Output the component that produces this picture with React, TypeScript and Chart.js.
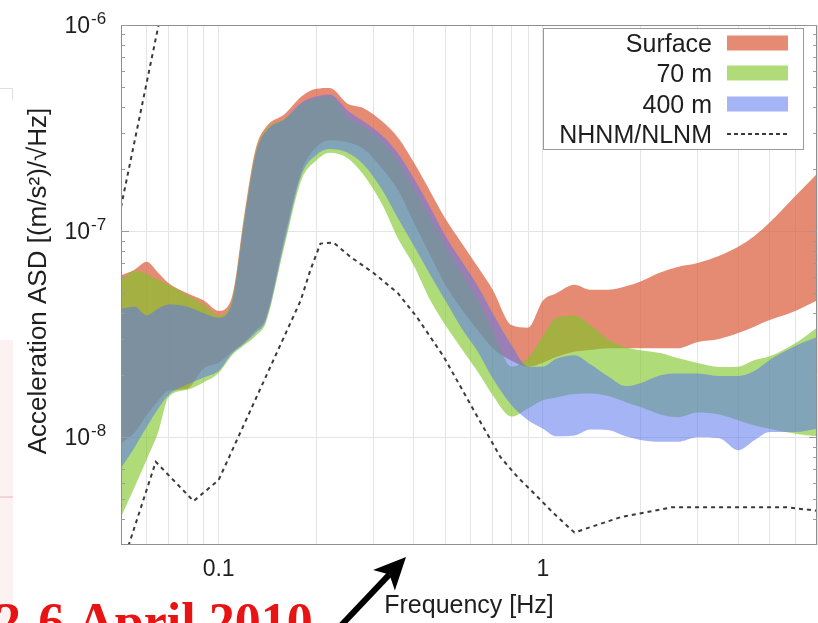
import React, { useEffect, useRef } from 'react';
import { Chart, registerables } from 'chart.js';

Chart.register(...registerables);

// ---------- data ----------
const freq = [0.05, 0.055, 0.06, 0.065, 0.07, 0.08, 0.09, 0.1, 0.11, 0.12, 0.13, 0.14, 0.16, 0.18, 0.2, 0.22, 0.25, 0.28, 0.32, 0.36, 0.4, 0.45, 0.5, 0.56, 0.63, 0.7, 0.8, 0.9, 1.0, 1.1, 1.25, 1.4, 1.6, 1.8, 2.0, 2.3, 2.6, 3.0, 3.5, 4.0, 4.5, 5.0, 6.0, 7.0];

const surfaceHigh = [6.1e-8, 6.5e-8, 7.1e-8, 6.3e-8, 5.6e-8, 5.0e-8, 4.6e-8, 4.1e-8, 4.8e-8, 1.2e-7, 2.5e-7, 3.2e-7, 3.7e-7, 4.5e-7, 4.9e-7, 4.95e-7, 4.15e-7, 3.95e-7, 3.4e-7, 2.8e-7, 2.15e-7, 1.55e-7, 1.15e-7, 8.8e-8, 6.7e-8, 5.2e-8, 3.5e-8, 3.4e-8, 4.6e-8, 5.0e-8, 5.5e-8, 5.2e-8, 5.2e-8, 5.4e-8, 5.7e-8, 6.3e-8, 6.7e-8, 7.0e-8, 7.6e-8, 8.4e-8, 9.5e-8, 1.1e-7, 1.48e-7, 1.9e-7];
const surfaceLow = [9.3e-9, 1.05e-8, 1.28e-8, 1.5e-8, 1.68e-8, 1.72e-8, 2.16e-8, 2.3e-8, 2.6e-8, 2.9e-8, 3.3e-8, 3.8e-8, 9.5e-8, 1.95e-7, 2.55e-7, 2.76e-7, 2.7e-7, 2.5e-7, 2.0e-7, 1.55e-7, 1.1e-7, 7.6e-8, 5.5e-8, 4.2e-8, 3.3e-8, 2.7e-8, 2.35e-8, 2.2e-8, 2.3e-8, 2.45e-8, 2.6e-8, 2.65e-8, 2.7e-8, 2.7e-8, 2.7e-8, 2.7e-8, 2.7e-8, 2.9e-8, 3.0e-8, 3.2e-8, 3.45e-8, 3.7e-8, 4.1e-8, 4.6e-8];

const m70High = [5.8e-8, 6.4e-8, 6.2e-8, 5.8e-8, 5.5e-8, 4.9e-8, 4.4e-8, 3.9e-8, 4.6e-8, 1.15e-7, 2.4e-7, 3.1e-7, 3.5e-7, 4.1e-7, 4.4e-7, 4.5e-7, 3.55e-7, 3.2e-7, 2.7e-7, 2.15e-7, 1.6e-7, 1.15e-7, 8.5e-8, 6.3e-8, 4.6e-8, 3.3e-8, 2.2e-8, 2.42e-8, 3.1e-8, 3.8e-8, 3.9e-8, 3.5e-8, 2.96e-8, 2.73e-8, 2.64e-8, 2.56e-8, 2.42e-8, 2.29e-8, 2.19e-8, 2.2e-8, 2.37e-8, 2.47e-8, 2.86e-8, 3.4e-8];
const m70Low = [4.1e-9, 5.7e-9, 7.8e-9, 1.05e-8, 1.56e-8, 1.7e-8, 1.85e-8, 2.05e-8, 2.5e-8, 2.8e-8, 3.1e-8, 3.6e-8, 8.6e-8, 1.77e-7, 2.2e-7, 2.4e-7, 2.26e-7, 1.87e-7, 1.34e-7, 9.0e-8, 6.8e-8, 4.6e-8, 3.5e-8, 2.7e-8, 2.07e-8, 1.6e-8, 1.26e-8, 1.38e-8, 1.51e-8, 1.56e-8, 1.62e-8, 1.63e-8, 1.58e-8, 1.48e-8, 1.4e-8, 1.29e-8, 1.25e-8, 1.32e-8, 1.29e-8, 1.21e-8, 1.14e-8, 1.1e-8, 1.04e-8, 1.01e-8];

const m400High = [4.2e-8, 4.3e-8, 3.9e-8, 4.2e-8, 4.4e-8, 4.3e-8, 4.0e-8, 3.8e-8, 4.5e-8, 1.12e-7, 2.35e-7, 3.05e-7, 3.5e-7, 4.2e-7, 4.5e-7, 4.6e-7, 3.85e-7, 3.4e-7, 2.9e-7, 2.35e-7, 1.8e-7, 1.3e-7, 9.5e-8, 7.2e-8, 5.4e-8, 4.0e-8, 2.8e-8, 2.2e-8, 2.2e-8, 2.4e-8, 2.5e-8, 2.26e-8, 1.96e-8, 1.77e-8, 1.83e-8, 2.0e-8, 2.04e-8, 2.04e-8, 1.98e-8, 1.98e-8, 2.1e-8, 2.37e-8, 2.77e-8, 3.06e-8];
const m400Low = [7.1e-9, 8.9e-9, 1.12e-8, 1.37e-8, 1.6e-8, 1.8e-8, 1.95e-8, 2.1e-8, 2.55e-8, 2.85e-8, 3.2e-8, 3.7e-8, 9.0e-8, 1.87e-7, 2.34e-7, 2.5e-7, 2.4e-7, 2.1e-7, 1.58e-7, 1.13e-7, 8.5e-8, 6.1e-8, 4.6e-8, 3.4e-8, 2.6e-8, 1.93e-8, 1.43e-8, 1.21e-8, 1.1e-8, 1.01e-8, 1.02e-8, 1.09e-8, 1.08e-8, 1.01e-8, 9.7e-9, 9.5e-9, 9.5e-9, 1.0e-8, 9.9e-9, 8.65e-9, 9.7e-9, 1.06e-8, 1.06e-8, 1.1e-8];

const nhnmFreq = [0.05, 0.07];
const nhnmValue = [1.31e-7, 1.7e-6];
const nlnmFreq = [0.05, 0.064, 0.0837, 0.1, 0.179, 0.192, 0.206, 0.226, 0.255, 0.301, 0.357, 0.41, 0.495, 0.612, 0.74, 0.836, 0.938, 1.08, 1.25, 1.74, 2.49, 5.65, 7.0];
const nlnmValue = [2.3e-9, 7.6e-9, 4.9e-9, 6.2e-9, 4.6e-8, 6.5e-8, 8.7e-8, 8.8e-8, 7.5e-8, 6.25e-8, 5.0e-8, 3.8e-8, 2.45e-8, 1.35e-8, 8.0e-9, 6.4e-9, 5.35e-9, 4.27e-9, 3.45e-9, 4.1e-9, 4.57e-9, 4.57e-9, 4.4e-9];

const xGridValues = [0.05, 0.06, 0.07, 0.08, 0.09, 0.1, 0.2, 0.3, 0.4, 0.5, 0.6, 0.7, 0.8, 0.9, 1, 2, 3, 4, 5, 6, 7];
const xLabelValues = [0.1, 1];
const xLabelTexts = ['0.1', '1'];
const yGridValues = [1e-8, 1e-7, 1e-6];
const yMinorTickValues = [4e-9, 5e-9, 6e-9, 7e-9, 8e-9, 9e-9, 2e-8, 3e-8, 4e-8, 5e-8, 6e-8, 7e-8, 8e-8, 9e-8, 2e-7, 3e-7, 4e-7, 5e-7, 6e-7, 7e-7, 8e-7, 9e-7];
const yLabelValues = [1e-6, 1e-7, 1e-8];
const yLabelExponents = ['-6', '-7', '-8'];
const legendLabels = ['Surface', '70 m', '400 m', 'NHNM/NLNM'];

const xTitle = 'Frequency [Hz]';
const yTitle = 'Acceleration ASD [(m/s\u00B2)/\u221AHz]';
const noteText = '2-6 April 2010';

// ---------- styles ----------
const SURFACE_COLOR = 'rgba(220,100,70,0.75)';
const M70_COLOR = 'rgba(126,198,37,0.62)';
const M400_COLOR = 'rgba(91,118,236,0.55)';
const DASH_COLOR = '#3a3a3a';
const SANS = '"Liberation Sans", Arial, Helvetica, sans-serif';
const TEXT = '#1e1e1e';

const pts = (xs: number[], ys: number[]) => xs.map((x, i) => ({ x, y: ys[i] }));

function bandSets(lo: number[], hi: number[], color: string, order: number, label: string) {
  return [
    {
      label: label + ' (low)',
      data: pts(freq, lo),
      borderWidth: 0,
      borderColor: 'rgba(0,0,0,0)',
      pointRadius: 0,
      fill: false,
      order,
      cubicInterpolationMode: 'monotone' as const,
      clip: 0,
    },
    {
      label,
      data: pts(freq, hi),
      borderWidth: 0,
      borderColor: 'rgba(0,0,0,0)',
      backgroundColor: color,
      pointRadius: 0,
      fill: '-1',
      order,
      cubicInterpolationMode: 'monotone' as const,
      clip: 0,
    },
  ];
}

const decorPlugin = {
  id: 'decor',
  beforeDraw(chart: any) {
    const ctx = chart.ctx;
    ctx.save();
    ctx.fillStyle = '#ffffff';
    ctx.fillRect(0, 0, chart.width, chart.height);
    // faint slide remnants at the far left
    ctx.fillStyle = 'rgba(252,232,232,0.55)';
    ctx.fillRect(0, 340, 13, 283);
    ctx.strokeStyle = 'rgba(236,190,190,0.6)';
    ctx.lineWidth = 2;
    ctx.beginPath();
    ctx.moveTo(0, 497);
    ctx.lineTo(13, 497);
    ctx.stroke();
    ctx.strokeStyle = 'rgba(215,215,215,0.8)';
    ctx.lineWidth = 1;
    ctx.beginPath();
    ctx.moveTo(0, 88.5);
    ctx.lineTo(12.5, 88.5);
    ctx.lineTo(12.5, 100);
    ctx.stroke();
    ctx.restore();
  },
  afterDraw(chart: any) {
    const ctx = chart.ctx;
    const ca = chart.chartArea;
    const xs = chart.scales.x;
    const ys = chart.scales.y;
    ctx.save();

    // frame
    ctx.strokeStyle = '#8e8e8e';
    ctx.lineWidth = 1;
    ctx.strokeRect(ca.left + 0.5, ca.top + 0.5, ca.right - ca.left - 1, ca.bottom - ca.top - 1);

    // small inward ticks on the y axis borders
    ctx.strokeStyle = '#9a9a9a';
    ctx.beginPath();
    yMinorTickValues.forEach((v) => {
      const y = Math.round(ys.getPixelForValue(v)) + 0.5;
      ctx.moveTo(ca.left, y);
      ctx.lineTo(ca.left + 4, y);
      ctx.moveTo(ca.right, y);
      ctx.lineTo(ca.right - 4, y);
    });
    yGridValues.forEach((v) => {
      const y = Math.round(ys.getPixelForValue(v)) + 0.5;
      ctx.moveTo(ca.left, y);
      ctx.lineTo(ca.left + 8, y);
      ctx.moveTo(ca.right, y);
      ctx.lineTo(ca.right - 8, y);
    });
    ctx.stroke();

    // y tick labels 10^n
    ctx.fillStyle = TEXT;
    yLabelValues.forEach((v, i) => {
      const y = ys.getPixelForValue(v);
      ctx.font = '23px ' + SANS;
      ctx.textAlign = 'right';
      ctx.textBaseline = 'alphabetic';
      ctx.fillText('10', 90, y + 8);
      ctx.font = '17px ' + SANS;
      ctx.textAlign = 'left';
      ctx.fillText(yLabelExponents[i], 91, y - 1);
    });

    // x tick labels
    ctx.font = '23px ' + SANS;
    ctx.textAlign = 'center';
    xLabelValues.forEach((v, i) => {
      ctx.fillText(xLabelTexts[i], xs.getPixelForValue(v), 576);
    });

    // axis titles
    ctx.font = '25px ' + SANS;
    ctx.fillText(xTitle, (ca.left + ca.right) / 2, 613);
    ctx.save();
    ctx.font = '26px ' + SANS;
    ctx.translate(46, 281);
    ctx.rotate(-Math.PI / 2);
    ctx.textAlign = 'center';
    ctx.fillText(yTitle, 0, 0);
    ctx.restore();

    // legend
    const lx = 543, ly = 28, lw = 260, lh = 121;
    ctx.fillStyle = '#ffffff';
    ctx.fillRect(lx, ly, lw, lh);
    ctx.strokeStyle = '#9a9a9a';
    ctx.lineWidth = 1;
    ctx.strokeRect(lx + 0.5, ly + 0.5, lw, lh);
    const rows = [43, 73, 104, 134];
    const swatches = [SURFACE_COLOR, M70_COLOR, M400_COLOR];
    ctx.font = '25px ' + SANS;
    ctx.textAlign = 'right';
    rows.forEach((ry, i) => {
      ctx.fillStyle = TEXT;
      ctx.fillText(legendLabels[i], 712, ry + 9);
      if (i < 3) {
        ctx.fillStyle = swatches[i];
        ctx.fillRect(727, ry - 7.5, 61, 15);
      } else {
        ctx.strokeStyle = DASH_COLOR;
        ctx.lineWidth = 2;
        ctx.setLineDash([4, 3]);
        ctx.beginPath();
        ctx.moveTo(727, ry);
        ctx.lineTo(790, ry);
        ctx.stroke();
        ctx.setLineDash([]);
      }
    });

    // red annotation text (cut at the bottom)
    ctx.fillStyle = '#e81414';
    ctx.font = 'bold 52px "Liberation Serif", "Times New Roman", serif';
    ctx.textAlign = 'left';
    ctx.fillText(noteText, -5, 639);

    // arrow
    const tip = { x: 406, y: 557 };
    const tail = { x: 332, y: 635 };
    const dx = tip.x - tail.x, dy = tip.y - tail.y;
    const len = Math.hypot(dx, dy);
    const ux = dx / len, uy = dy / len;
    const nx = -uy, ny = ux;
    const hl = 32, hw = 15;
    const bx = tip.x - hl * ux, by = tip.y - hl * uy;
    const notchX = tip.x - 24 * ux, notchY = tip.y - 24 * uy;
    ctx.strokeStyle = '#000';
    ctx.lineWidth = 6;
    ctx.beginPath();
    ctx.moveTo(tail.x, tail.y);
    ctx.lineTo(notchX, notchY);
    ctx.stroke();
    ctx.fillStyle = '#000';
    ctx.beginPath();
    ctx.moveTo(tip.x, tip.y);
    ctx.lineTo(bx + hw * nx, by + hw * ny);
    ctx.lineTo(notchX, notchY);
    ctx.lineTo(bx - hw * nx, by - hw * ny);
    ctx.closePath();
    ctx.fill();

    ctx.restore();
  },
};

export default function App() {
  const ref = useRef<HTMLCanvasElement | null>(null);
  useEffect(() => {
    if (!ref.current) return;
    const datasets: any[] = [
      ...bandSets(surfaceLow, surfaceHigh, SURFACE_COLOR, 3, legendLabels[0]),
      ...bandSets(m70Low, m70High, M70_COLOR, 2, legendLabels[1]),
      ...bandSets(m400Low, m400High, M400_COLOR, 1, legendLabels[2]),
      {
        label: 'NHNM',
        data: pts(nhnmFreq, nhnmValue),
        borderColor: DASH_COLOR,
        borderWidth: 2,
        borderDash: [4, 4],
        pointRadius: 0,
        fill: false,
        tension: 0,
        order: 0,
        clip: 0,
      },
      {
        label: 'NLNM',
        data: pts(nlnmFreq, nlnmValue),
        borderColor: DASH_COLOR,
        borderWidth: 2,
        borderDash: [4, 4],
        pointRadius: 0,
        fill: false,
        tension: 0,
        order: 0,
        clip: 0,
      },
    ];
    const chart = new Chart(ref.current, {
      type: 'line',
      data: { datasets },
      plugins: [decorPlugin],
      options: {
        animation: false,
        responsive: false,
        maintainAspectRatio: false,
        parsing: false,
        normalized: true,
        layout: { padding: { left: 0, top: 25, right: 1, bottom: 0 } },
        plugins: {
          legend: { display: false },
          tooltip: { enabled: false },
          title: { display: false },
        },
        scales: {
          x: {
            type: 'logarithmic',
            min: 0.05,
            max: 7,
            afterBuildTicks: (s: any) => {
              s.ticks = xGridValues.map((v) => ({ value: v }));
            },
            afterFit: (s: any) => {
              s.height = 78;
            },
            ticks: { display: false },
            grid: { color: '#e4e4e4', lineWidth: 1, drawTicks: false },
            border: { display: false },
          },
          y: {
            type: 'logarithmic',
            min: 3e-9,
            max: 1e-6,
            afterBuildTicks: (s: any) => {
              s.ticks = yGridValues.map((v) => ({ value: v }));
            },
            afterFit: (s: any) => {
              s.width = 121;
            },
            ticks: { display: false },
            grid: { color: '#e4e4e4', lineWidth: 1, drawTicks: false },
            border: { display: false },
          },
        },
      } as any,
    });
    return () => chart.destroy();
  }, []);
  return (
    <div style={{ position: 'fixed', left: 0, top: 0, width: 818, height: 623, background: '#fff' }}>
      <canvas ref={ref} width={818} height={623} style={{ display: 'block' }} />
    </div>
  );
}
